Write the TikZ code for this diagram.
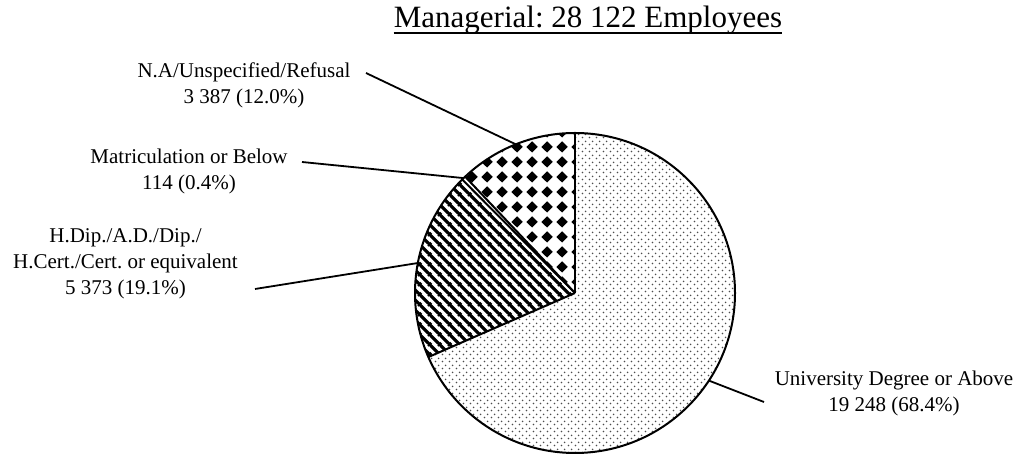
\documentclass[tikz,border=0pt]{standalone}
\usepackage{fontspec}
\setmainfont{Liberation Serif}
\usetikzlibrary{patterns}
\frenchspacing
\pgfdeclarepatternformonly{piedots}{\pgfqpoint{0pt}{0pt}}{\pgfqpoint{7pt}{7pt}}{\pgfqpoint{7pt}{7pt}}{%
 \pgfpathcircle{\pgfqpoint{1.75pt}{1.75pt}}{1pt}\pgfpathcircle{\pgfqpoint{5.25pt}{5.25pt}}{1pt}\pgfusepath{fill}}
\pgfdeclarepatternformonly{piestripes}{\pgfqpoint{0pt}{0pt}}{\pgfqpoint{10pt}{10pt}}{\pgfqpoint{10pt}{10pt}}{%
 \pgfsetlinewidth{3.5pt}%
 \pgfpathmoveto{\pgfqpoint{-1pt}{11pt}}\pgfpathlineto{\pgfqpoint{11pt}{-1pt}}%
 \pgfpathmoveto{\pgfqpoint{-1pt}{1pt}}\pgfpathlineto{\pgfqpoint{1pt}{-1pt}}%
 \pgfpathmoveto{\pgfqpoint{9pt}{11pt}}\pgfpathlineto{\pgfqpoint{11pt}{9pt}}%
 \pgfusepath{stroke}}
\pgfdeclarepatternformonly{piediamonds}{\pgfqpoint{0pt}{0pt}}{\pgfqpoint{15pt}{15pt}}{\pgfqpoint{15pt}{15pt}}{%
 \pgfpathmoveto{\pgfqpoint{7.5pt}{1.5pt}}\pgfpathlineto{\pgfqpoint{13.5pt}{7.5pt}}\pgfpathlineto{\pgfqpoint{7.5pt}{13.5pt}}\pgfpathlineto{\pgfqpoint{1.5pt}{7.5pt}}\pgfpathclose\pgfusepath{fill}}
\begin{document}
\begin{tikzpicture}[x=1pt,y=1pt,
  lbl/.style={font=\fontsize{21}{26}\selectfont, align=center, inner sep=0pt, anchor=north},
  leader/.style={line width=1.8pt},
  slice/.style={line width=2pt, line join=round}]
\useasboundingbox (0,0) rectangle (1017,454);
\def\R{160}
\coordinate (C) at (575,161);
% slices
\fill[pattern=piedots, pattern color=black!70] (C) -- ++(90:\R) arc[start angle=90, end angle=-156.4, radius=\R] -- cycle;
\fill[pattern=piestripes, pattern color=black] (C) -- ++(-156.4:\R) arc[start angle=-156.4, end angle=-225.18, radius=\R] -- cycle;
\fill[white] (C) -- ++(-225.18:\R) arc[start angle=-225.18, end angle=-226.64, radius=\R] -- cycle;
\fill[pattern=piediamonds, pattern color=black] (C) -- ++(-226.64:\R) arc[start angle=-226.64, end angle=-270, radius=\R] -- cycle;
% outlines
\draw[slice] (C) circle[radius=\R];
\draw[slice] (C) -- ++(90:\R);
\draw[slice] (C) -- ++(-156.4:\R);
\draw[slice] (C) -- ++(-225.18:\R);
\draw[slice] (C) -- ++(-226.64:\R);
% leader anchor points on the pie
\path (C) ++(111.7:\R) coordinate (pNA);
\path (C) ++(134.1:\R) coordinate (pMA);
\path (C) ++(169.2:\R) coordinate (pHD);
\path (C) ++(-33.2:\R) coordinate (pUN);
\coordinate (eNA) at (366,381);
\coordinate (eMA) at (302,292);
\coordinate (eHD) at (255,165);
\coordinate (eUN) at (764,52);
% title
\node[font=\fontsize{31}{37}\selectfont, anchor=base, inner sep=0pt] (title) at (588,426) {Managerial: 28 122 Employees};
\draw[line width=1.8pt] ([yshift=-5pt]title.base west) -- ([yshift=-5pt]title.base east);
% labels
\node[lbl] (lNA) at (244,391.5) {N.A/Unspecified/Refusal\\3 387 (12.0\%)};
\node[lbl] (lMA) at (189,305.5) {Matriculation or Below\\114 (0.4\%)};
\node[lbl] (lHD) at (125.5,225.5) {H.Dip./A.D./Dip./\\H.Cert./Cert. or equivalent\\5 373 (19.1\%)};
\node[lbl] (lUN) at (894,83.5) {University Degree or Above\\19 248 (68.4\%)};
% leaders
\draw[leader] (eNA) -- (pNA);
\draw[leader] (eMA) -- (pMA);
\draw[leader] (eHD) -- (pHD);
\draw[leader] (eUN) -- (pUN);
\end{tikzpicture}
\end{document}
